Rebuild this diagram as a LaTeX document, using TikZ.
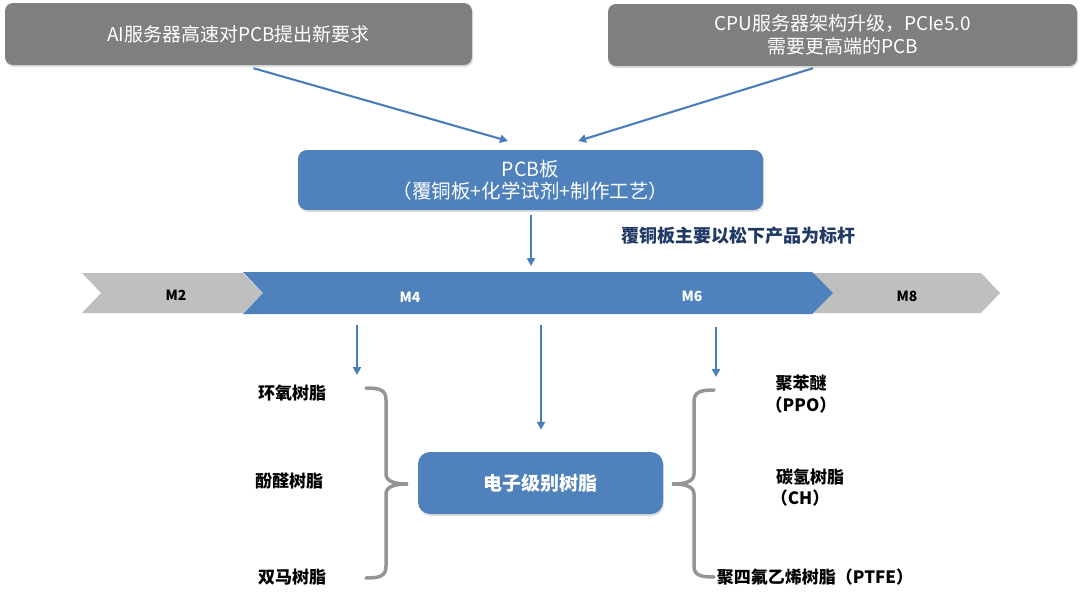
\documentclass[tikz,border=0pt]{standalone}
\usepackage{fontspec}
\setmainfont{Noto Sans CJK SC}
\usetikzlibrary{arrows.meta,shadows}
\definecolor{boxgray}{HTML}{7F7F7F}
\definecolor{boxblue}{HTML}{4F81BD}
\definecolor{arrowblue}{HTML}{4A7EBB}
\definecolor{bandgray}{HTML}{BFBFBF}
\definecolor{notecolor}{HTML}{1F3864}
\definecolor{bracegray}{HTML}{959595}

\begin{document}
\begin{tikzpicture}[x=1pt,y=-1pt,
  graybox/.style={fill=boxgray, rounded corners=8pt, text=white, align=center, inner sep=0pt,
    font=\fontsize{19}{23}\selectfont, minimum height=62pt,
    drop shadow={shadow xshift=1pt, shadow yshift=-2pt, opacity=0.25}},
  bluebox/.style={fill=boxblue, rounded corners=9pt, text=white, align=center, inner sep=0pt,
    drop shadow={shadow xshift=1pt, shadow yshift=-2pt, opacity=0.25}},
  label/.style={font=\fontsize{17}{20}\selectfont\bfseries, inner sep=0pt},
  mlabel/.style={font=\fontsize{14}{16}\selectfont\bfseries, inner sep=0pt},
  arrow/.style={draw=arrowblue, line width=2.1pt, -{Triangle[length=8pt,width=8pt]}},
  brace/.style={draw=bracegray, line width=3.5pt, line cap=round}]
  \useasboundingbox (0,0) rectangle (1080,598);

  % top requirement boxes
  \node[graybox, minimum width=467pt] (ai) at (238.5,34) {AI服务器高速对PCB提出新要求};
  \node[graybox, minimum width=469pt] (cpu) at (842.5,35) {CPU服务器架构升级，PCIe5.0\\需要更高端的PCB};
  \node[bluebox, minimum width=465pt, minimum height=60pt, font=\fontsize{19.5}{22}\selectfont] (pcb) at (530.5,180)
    {PCB板\\（覆铜板+化学试剂+制作工艺）};

  \coordinate (aiend) at (508,141);
  \coordinate (cpuend) at (578,141);
  \draw[arrow] ([xshift=15pt,yshift=-3pt]ai.south) -- (aiend);
  \draw[arrow] ([xshift=-29.5pt,yshift=-2pt]cpu.south) -- (cpuend);

  \coordinate (bandtop) at (531,266);
  \draw[arrow] ([xshift=0.5pt,yshift=-5pt]pcb.south) -- (bandtop);
  \node[label, text=notecolor, font=\fontsize{18}{20}\selectfont\bfseries] (note) at (738,236) {覆铜板主要以松下产品为标杆};

  % grade band
  \fill[bandgray] (82,273) -- (243,273) -- (263,293) -- (243,313) -- (82,313) -- (101,293) -- cycle;
  \fill[bandgray] (812,273) -- (981,273) -- (1000,293) -- (981,313) -- (812,313) -- (833,293) -- cycle;
  \fill[boxblue] (243,272) -- (812,272) -- (833,293) -- (812,314) -- (243,314) -- (263,293) -- cycle;
  \node[mlabel] (m2) at (176,295) {M2};
  \node[mlabel, text=white] (m4) at (410,297) {M4};
  \node[mlabel, text=white] (m6) at (692,296) {M6};
  \node[mlabel] (m8) at (907,296) {M8};

  % resin types
  \node[bluebox, minimum width=245pt, minimum height=62pt, rounded corners=12pt,
    font=\fontsize{19}{22}\selectfont\bfseries] (resin) at (540.5,483) {电子级别树脂};

  \coordinate (m4dn) at (357,325);
  \coordinate (m4end) at (357,375);
  \coordinate (middn) at (541,325);
  \coordinate (m6dn) at (716,327);
  \coordinate (m6end) at (716,377);
  \draw[arrow] (m4dn) -- (m4end);
  \draw[arrow] (middn) -- ([xshift=0.5pt,yshift=22pt]resin.north);
  \draw[arrow] (m6dn) -- (m6end);

  \node[label] (epoxy) at (292,393) {环氧树脂};
  \node[label] (phenolic) at (289,481) {酚醛树脂};
  \node[label] (bmi) at (292,577) {双马树脂};

  \node[label] (ppo) at (801,383) {聚苯醚};
  \node[label] (ppob) at (801,405) {（PPO）};
  \node[label] (ch) at (810,477) {碳氢树脂};
  \node[label] (chb) at (800,498) {（CH）};
  \node[label] (ptfe) at (815,577) {聚四氟乙烯树脂（PTFE）};

  % braces
  \draw[brace] (366,388) .. controls (380,388) and (386,390) .. (386,400) -- (386,474)
    .. controls (386,482) and (396,484) .. (408,484)
    .. controls (396,484) and (386,486) .. (386,494) -- (386,566)
    .. controls (386,576) and (380,578) .. (366,578);
  \draw[brace] (714,390) .. controls (700,390) and (694,392) .. (694,402) -- (694,474)
    .. controls (694,482) and (684,484) .. (672,484)
    .. controls (684,484) and (694,486) .. (694,494) -- (694,566)
    .. controls (694,575) and (700,577) .. (714,577);
\end{tikzpicture}
\end{document}
